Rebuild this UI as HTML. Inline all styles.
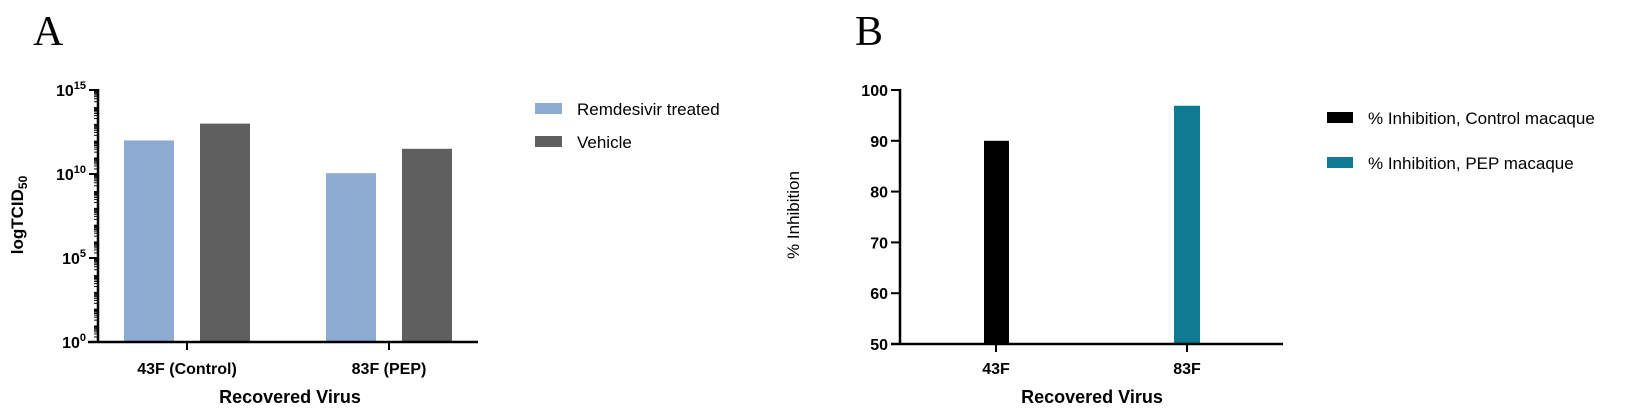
<!DOCTYPE html>
<html><head><meta charset="utf-8"><style>
body{margin:0;background:#fff;}
svg{display:block;font-family:"Liberation Sans",sans-serif;}
</style></head><body>
<svg width="1652" height="412" viewBox="0 0 1652 412">
<text x="33" y="45" font-family="Liberation Serif,serif" font-size="42">A</text>
<text x="855" y="45" font-family="Liberation Serif,serif" font-size="42">B</text>
<g id="chartA"></g>
<g id="chartB"></g>
</svg>
<script>
const catsA=["43F (Control)","83F (PEP)"];
const remdesivir=[12.0,10.05];
const vehicle=[13.0,11.5];
const tickExpA=[0,5,10,15];
const catsB=["43F","83F"];
const controlInh=[90,null];
const pepInh=[null,96.9];
const ticksB=[50,60,70,80,90,100];

const NS="http://www.w3.org/2000/svg";
function mk(p,tag,attrs,txt){const e=document.createElementNS(NS,tag);for(const k in attrs)e.setAttribute(k,attrs[k]);if(txt!=null)e.textContent=txt;p.appendChild(e);return e;}

// Chart A
const A=document.getElementById('chartA');
const yA=v=>342-(v/15)*252;
const xA0=98,xA1=478;
const centersA=[187,389];
const bw=50;
catsA.forEach((c,i)=>{
  let r=mk(A,'rect',{x:centersA[i]-63,y:yA(remdesivir[i]),width:bw,height:342-yA(remdesivir[i]),fill:'#8eabd2'});
  
  
  let g=mk(A,'rect',{x:centersA[i]+13,y:yA(vehicle[i]),width:bw,height:342-yA(vehicle[i]),fill:'#5f5f5f'});
  
  
  mk(A,'line',{x1:centersA[i],x2:centersA[i],y1:342,y2:350,stroke:'#000','stroke-width':2});
  let t=mk(A,'text',{x:centersA[i],y:374,'text-anchor':'middle','font-size':16,'font-weight':'bold'},c);
  
  
});
mk(A,'line',{x1:xA0,x2:xA0,y1:89,y2:343,stroke:'#000','stroke-width':2.5});
mk(A,'line',{x1:xA0-10,x2:xA1,y1:342,y2:342,stroke:'#000','stroke-width':2.5});
for(let d=0;d<15;d++){for(let m=2;m<10;m++){const yy=yA(d+Math.log10(m));mk(A,'line',{x1:xA0-4,x2:xA0,y1:yy,y2:yy,stroke:'#000','stroke-width':1});}}
tickExpA.forEach(e=>{
  mk(A,'line',{x1:xA0-9,x2:xA0,y1:yA(e),y2:yA(e),stroke:'#000','stroke-width':2});
  let t=mk(A,'text',{x:xA0-12,y:yA(e)+6,'text-anchor':'end','font-size':16,'font-weight':'bold'});
  
  
  mk(t,'tspan',{},'10');mk(t,'tspan',{dy:-7,'font-size':11},String(e));
});
let ytA=mk(A,'text',{transform:'translate(23,215) rotate(-90)','text-anchor':'middle','font-size':17,'font-weight':'bold'});

mk(ytA,'tspan',{},'logTCID');mk(ytA,'tspan',{dy:4,'font-size':12},'50');
let xtA=mk(A,'text',{x:290,y:403,'text-anchor':'middle','font-size':18,'font-weight':'bold'},'Recovered Virus');

let l1=mk(A,'rect',{x:535,y:103,width:27,height:11,fill:'#8eabd2'});

let l1t=mk(A,'text',{x:577,y:115,'font-size':17},'Remdesivir treated');

let l2=mk(A,'rect',{x:535,y:136,width:27,height:11,fill:'#5f5f5f'});

let l2t=mk(A,'text',{x:577,y:148,'font-size':17},'Vehicle');


// Chart B
const B=document.getElementById('chartB');
const yB=v=>344-(v-50)*5.08;
const xB0=900,xB1=1283;
const centersB=[996,1187];
catsB.forEach((c,i)=>{
  if(controlInh[i]!=null){let r=mk(B,'rect',{x:centersB[i]-12,y:yB(controlInh[i]),width:25,height:344-yB(controlInh[i]),fill:'#000'});
    }
  if(pepInh[i]!=null){let r=mk(B,'rect',{x:centersB[i]-13,y:yB(pepInh[i]),width:26,height:344-yB(pepInh[i]),fill:'#0e7b93'});
    }
  mk(B,'line',{x1:centersB[i],x2:centersB[i],y1:344,y2:352,stroke:'#000','stroke-width':2});
  let t=mk(B,'text',{x:centersB[i],y:374,'text-anchor':'middle','font-size':16,'font-weight':'bold'},c);
  
});
mk(B,'line',{x1:xB0,x2:xB0,y1:89,y2:345,stroke:'#000','stroke-width':2.5});
mk(B,'line',{x1:xB0-9,x2:xB1,y1:344,y2:344,stroke:'#000','stroke-width':2.5});
ticksB.forEach(v=>{
  mk(B,'line',{x1:xB0-9,x2:xB0,y1:yB(v),y2:yB(v),stroke:'#000','stroke-width':2});
  let t=mk(B,'text',{x:xB0-12,y:yB(v)+6,'text-anchor':'end','font-size':16,'font-weight':'bold'},String(v));
  
});
let ytB=mk(B,'text',{transform:'translate(799,215) rotate(-90)','text-anchor':'middle','font-size':17},'% Inhibition');

let xtB=mk(B,'text',{x:1092,y:403,'text-anchor':'middle','font-size':18,'font-weight':'bold'},'Recovered Virus');

let m1=mk(B,'rect',{x:1327,y:112,width:26,height:11,fill:'#000'});

let m1t=mk(B,'text',{x:1368,y:124,'font-size':17},'% Inhibition, Control macaque');

let m2=mk(B,'rect',{x:1327,y:157,width:26,height:11,fill:'#0e7b93'});

let m2t=mk(B,'text',{x:1368,y:169,'font-size':17},'% Inhibition, PEP macaque');

</script>
</body></html>
